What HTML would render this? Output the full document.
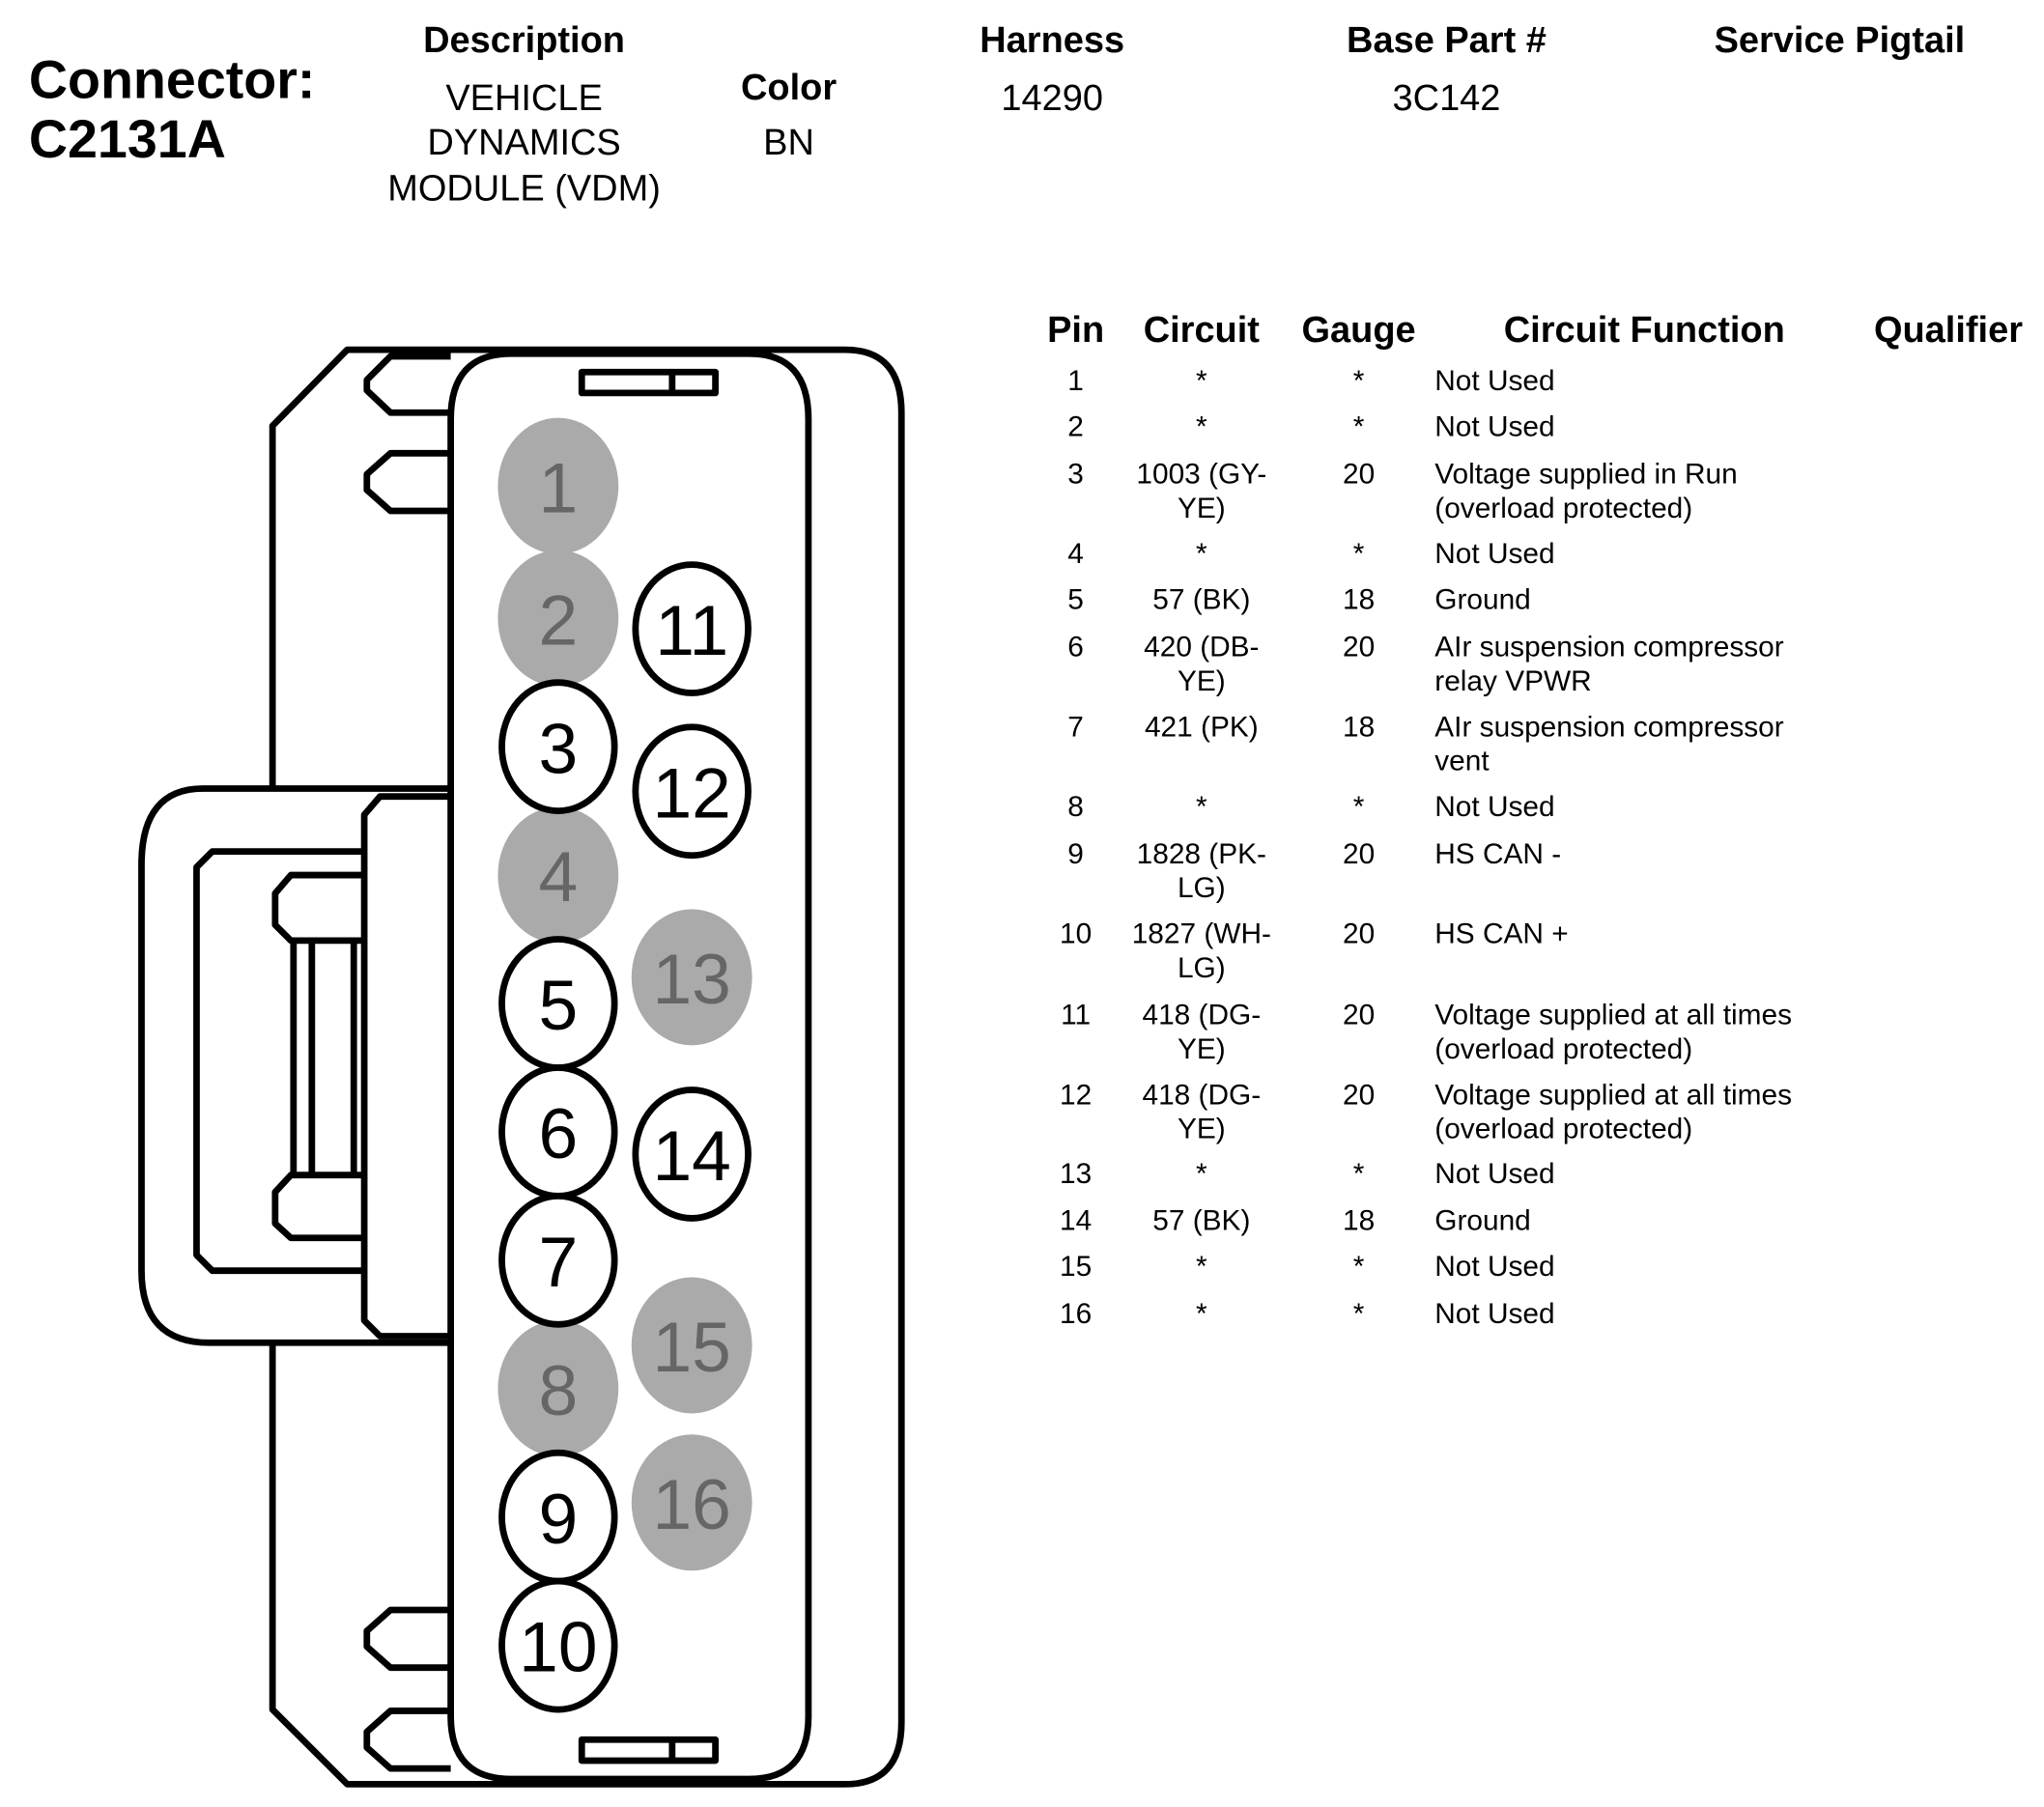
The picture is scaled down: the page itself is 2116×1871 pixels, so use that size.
<!DOCTYPE html>
<html><head><meta charset="utf-8"><style>
html,body{margin:0;padding:0;background:#fff;}
svg{display:block;}
text{font-family:"Liberation Sans",Arial,sans-serif;}
</style></head><body>
<svg width="2116" height="1871" viewBox="0 0 1560 1379.4" preserveAspectRatio="none" xmlns="http://www.w3.org/2000/svg">
<g fill="#000">
<text x="22" y="75" font-size="41" font-weight="bold">Connector:</text>
<text x="22" y="120" font-size="41" font-weight="bold">C2131A</text>
<g text-anchor="middle" font-size="28">
<text x="400" y="40" font-weight="bold">Description</text>
<text x="400" y="84">VEHICLE</text>
<text x="400" y="118">DYNAMICS</text>
<text x="400" y="153">MODULE (VDM)</text>
<text x="602" y="76" font-weight="bold">Color</text>
<text x="602" y="118">BN</text>
<text x="803" y="40" font-weight="bold">Harness</text>
<text x="803" y="84">14290</text>
<text x="1104" y="40" font-weight="bold">Base Part #</text>
<text x="1104" y="84">3C142</text>
<text x="1404" y="40" font-weight="bold">Service Pigtail</text>
<text x="821" y="261" font-weight="bold">Pin</text>
<text x="917" y="261" font-weight="bold">Circuit</text>
<text x="1037" y="261" font-weight="bold">Gauge</text>
<text x="1255" y="261" font-weight="bold">Circuit Function</text>
<text x="1487" y="261" font-weight="bold">Qualifier</text>
</g>
<g font-size="22">
<g text-anchor="middle">
<text x="821" y="298">1</text><text x="917" y="298">*</text><text x="1037" y="298">*</text>
<text x="821" y="333">2</text><text x="917" y="333">*</text><text x="1037" y="333">*</text>
<text x="821" y="369">3</text><text x="917" y="369">1003 (GY-</text><text x="917" y="395">YE)</text><text x="1037" y="369">20</text>
<text x="821" y="430">4</text><text x="917" y="430">*</text><text x="1037" y="430">*</text>
<text x="821" y="465">5</text><text x="917" y="465">57 (BK)</text><text x="1037" y="465">18</text>
<text x="821" y="501">6</text><text x="917" y="501">420 (DB-</text><text x="917" y="527">YE)</text><text x="1037" y="501">20</text>
<text x="821" y="562">7</text><text x="917" y="562">421 (PK)</text><text x="1037" y="562">18</text>
<text x="821" y="623">8</text><text x="917" y="623">*</text><text x="1037" y="623">*</text>
<text x="821" y="659">9</text><text x="917" y="659">1828 (PK-</text><text x="917" y="685">LG)</text><text x="1037" y="659">20</text>
<text x="821" y="720">10</text><text x="917" y="720">1827 (WH-</text><text x="917" y="746">LG)</text><text x="1037" y="720">20</text>
<text x="821" y="782">11</text><text x="917" y="782">418 (DG-</text><text x="917" y="808">YE)</text><text x="1037" y="782">20</text>
<text x="821" y="843">12</text><text x="917" y="843">418 (DG-</text><text x="917" y="869">YE)</text><text x="1037" y="843">20</text>
<text x="821" y="903">13</text><text x="917" y="903">*</text><text x="1037" y="903">*</text>
<text x="821" y="939">14</text><text x="917" y="939">57 (BK)</text><text x="1037" y="939">18</text>
<text x="821" y="974">15</text><text x="917" y="974">*</text><text x="1037" y="974">*</text>
<text x="821" y="1010">16</text><text x="917" y="1010">*</text><text x="1037" y="1010">*</text>
</g>
<text x="1095" y="298">Not Used</text>
<text x="1095" y="333">Not Used</text>
<text x="1095" y="369">Voltage supplied in Run</text><text x="1095" y="395">(overload protected)</text>
<text x="1095" y="430">Not Used</text>
<text x="1095" y="465">Ground</text>
<text x="1095" y="501">AIr suspension compressor</text><text x="1095" y="527">relay VPWR</text>
<text x="1095" y="562">AIr suspension compressor</text><text x="1095" y="588">vent</text>
<text x="1095" y="623">Not Used</text>
<text x="1095" y="659">HS CAN -</text>
<text x="1095" y="720">HS CAN +</text>
<text x="1095" y="782">Voltage supplied at all times</text><text x="1095" y="808">(overload protected)</text>
<text x="1095" y="843">Voltage supplied at all times</text><text x="1095" y="869">(overload protected)</text>
<text x="1095" y="903">Not Used</text>
<text x="1095" y="939">Ground</text>
<text x="1095" y="974">Not Used</text>
<text x="1095" y="1010">Not Used</text>
</g>
</g>
<g fill="none" stroke="#000" stroke-width="5" stroke-linejoin="round">
<!-- outer shell -->
<path d="M344,267 L645,267 Q688,267 688,315 L688,1315 Q688,1362 645,1362 L265,1362 L208,1305 L208,1027 M208,600 L208,325 L265,267 L344,267"/>
<!-- inner body -->
<path d="M390,270 L572,270 Q617,270 617,320 L617,1310 Q617,1358 572,1358 L390,1358 Q344,1358 344,1310 L344,320 Q344,270 390,270 Z"/>
<!-- slots -->
<rect x="444" y="284" width="102" height="16"/><line x1="513" y1="284" x2="513" y2="300"/>
<rect x="444" y="1328" width="102" height="16"/><line x1="513" y1="1328" x2="513" y2="1344"/>
<!-- tabs -->
<path d="M344,272 L298,272 L280,290 L280,298 L298,315 L344,315"/>
<path d="M344,346 L298,346 L280,362 L280,374 L298,390 L344,390"/>
<path d="M344,1229 L298,1229 L280,1245 L280,1257 L298,1273 L344,1273"/>
<path d="M344,1306 L298,1306 L280,1322 L280,1334 L298,1350 L344,1350"/>
<!-- latch -->
<path d="M344,602 L155,602 Q108,602 108,660 L108,970 Q108,1025 160,1025 L344,1025"/>
<path d="M344,608 L290,608 L278,622 L278,1008 L290,1020 L344,1020"/>
<path d="M278,650 L162,650 L150,662 L150,958 L162,970 L278,970"/>
<path d="M278,668 L222,668 L210,682 L210,706 L222,718 L278,718"/>
<path d="M278,897 L222,897 L210,910 L210,934 L222,945 L278,945"/>
<line x1="224" y1="720" x2="224" y2="895"/>
<line x1="238" y1="720" x2="238" y2="895"/>
<line x1="270" y1="720" x2="270" y2="895"/>
</g>
<!-- pins -->
<g font-size="54" text-anchor="middle">
<g fill="#aaa">
<ellipse cx="426" cy="371" rx="46" ry="52"/>
<ellipse cx="426" cy="472" rx="46" ry="52"/>
<ellipse cx="426" cy="668" rx="46" ry="52"/>
<ellipse cx="426" cy="1060" rx="46" ry="52"/>
<ellipse cx="528" cy="746" rx="46" ry="52"/>
<ellipse cx="528" cy="1027" rx="46" ry="52"/>
<ellipse cx="528" cy="1147" rx="46" ry="52"/>
</g>
<g fill="#fff" stroke="#000" stroke-width="5">
<ellipse cx="426" cy="570" rx="43" ry="49"/>
<ellipse cx="426" cy="766" rx="43" ry="49"/>
<ellipse cx="426" cy="864" rx="43" ry="49"/>
<ellipse cx="426" cy="962" rx="43" ry="49"/>
<ellipse cx="426" cy="1158" rx="43" ry="49"/>
<ellipse cx="426" cy="1256" rx="43" ry="49"/>
<ellipse cx="528" cy="480" rx="43" ry="49"/>
<ellipse cx="528" cy="604" rx="43" ry="49"/>
<ellipse cx="528" cy="881" rx="43" ry="49"/>
</g>
<g fill="#666">
<text x="426" y="391">1</text><text x="426" y="492">2</text><text x="426" y="688">4</text><text x="426" y="1080">8</text>
<text x="528" y="766" textLength="60" lengthAdjust="spacingAndGlyphs">13</text>
<text x="528" y="1047" textLength="60" lengthAdjust="spacingAndGlyphs">15</text>
<text x="528" y="1167" textLength="60" lengthAdjust="spacingAndGlyphs">16</text>
</g>
<g fill="#000">
<text x="426" y="590">3</text><text x="426" y="786">5</text><text x="426" y="884">6</text><text x="426" y="982">7</text><text x="426" y="1178">9</text>
<text x="426" y="1276" textLength="60" lengthAdjust="spacingAndGlyphs">10</text>
<text x="528" y="500" textLength="56" lengthAdjust="spacingAndGlyphs">11</text>
<text x="528" y="624" textLength="60" lengthAdjust="spacingAndGlyphs">12</text>
<text x="528" y="901" textLength="60" lengthAdjust="spacingAndGlyphs">14</text>
</g>
</g>
</svg>
</body></html>
